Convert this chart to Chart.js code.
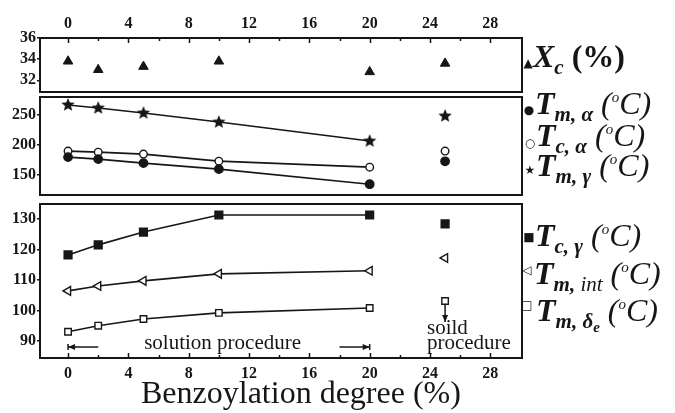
<!DOCTYPE html>
<html>
<head>
<meta charset="utf-8">
<script src="https://cdn.jsdelivr.net/npm/chart.js@4.4.1/dist/chart.umd.min.js"></script>
<style>
  body { margin: 0; background: #fff; }
  #wrap { position: relative; width: 675px; height: 413px; overflow: hidden; }
  #wrap canvas { position: absolute; left: 0; top: 0; }
  .leg { position: absolute; font-family: "Liberation Serif", serif; font-style: italic; font-weight: bold;
         font-size: 32px; line-height: 32px; color: #161616; white-space: nowrap; }
  .leg sub { font-size: 21px; line-height: 0; vertical-align: -7px; }
  .leg sub sub { font-size: 15px; vertical-align: -4px; }
  .leg sup { font-size: 15px; line-height: 0; vertical-align: 12px; font-weight: normal; }
  .leg .u { font-style: normal; }
  .leg .p { font-weight: normal; }
  .mk { position: absolute; font-family: "DejaVu Sans", sans-serif; font-size: 12px; line-height: 1;
        color: #161616; transform: translate(-50%, -50%); }
  #xtitle { position: absolute; left: 141px; top: 376px; font-family: "Liberation Serif", serif;
            font-size: 32px; line-height: 32px; color: #161616; white-space: nowrap; }
</style>
</head>
<body>
<div id="wrap">
  <canvas id="pXc" width="675" height="413"></canvas>
  <canvas id="pMelt" width="675" height="413"></canvas>
  <canvas id="pLow" width="675" height="413"></canvas>

  <div class="mk" style="left:528px;top:63px">▲</div>
  <div class="leg" style="left:533px;top:40px">X<sub>c</sub> <span class="u">(%)</span></div>

  <div class="mk" style="left:529px;top:110px">●</div>
  <div class="leg" style="left:535px;top:87px">T<sub>m, α</sub> <span class="p">(<sup>o</sup>C)</span></div>
  <div class="mk" style="left:530px;top:143px">○</div>
  <div class="leg" style="left:536px;top:119px">T<sub>c, α</sub> <span class="p">(<sup>o</sup>C)</span></div>
  <div class="mk" style="left:530px;top:170px">★</div>
  <div class="leg" style="left:536px;top:149px">T<sub>m, γ</sub> <span class="p">(<sup>o</sup>C)</span></div>

  <div class="mk" style="left:529px;top:237px">■</div>
  <div class="leg" style="left:535px;top:219px">T<sub>c, γ</sub> <span class="p">(<sup>o</sup>C)</span></div>
  <div class="mk" style="left:527px;top:270px">◁</div>
  <div class="leg" style="left:534px;top:257px">T<sub>m, <span class="p">int</span></sub> <span class="p">(<sup>o</sup>C)</span></div>
  <div class="mk" style="left:527px;top:305px">□</div>
  <div class="leg" style="left:536px;top:294px">T<sub>m, δ<sub>e</sub></sub> <span class="p">(<sup>o</sup>C)</span></div>

  <div id="xtitle">Benzoylation degree (%)</div>
</div>

<script>
// benzoylation degree (%) of each sample
const degree = [0, 2, 5, 10, 20, 25];

// crystallinity
const xcPct = [33.8, 33.0, 33.3, 33.8, 32.8, 33.6];

// melting / crystallization temperatures, upper block (°C)
const tmAlpha = [180, 176.7, 170, 160, 135, 173];
const tcAlpha = [190, 188.3, 185, 173.3, 163.3, 190];
const tmGamma = [266.7, 261.7, 253.3, 238.3, 206.7, 248.3];

// lower block (°C)
const tcGamma = [118.2, 121.5, 125.7, 131.3, 131.3, 128.4];
const tmInt = [106.4, 108, 109.7, 112, 113, 117.2];
const tmDelta = [93, 95, 97.2, 99.2, 100.8, 103.1];

// tick values
const degreeTicks = [0, 2, 4, 6, 8, 10, 12, 14, 16, 18, 20, 22, 24, 26, 28];
const xcTicks = [32, 34, 36];
const meltTicks = [150, 200, 250];
const lowTicks = [90, 100, 110, 120, 130];

const INK = '#161616';
const SERIF = '"Liberation Serif", "Times New Roman", serif';

function pts(ys) {
    return degree.map((x, i) => ({ x: x, y: ys[i] }));
}

// filled five point star used as a point style
function starImage(r) {
    const c = document.createElement('canvas');
    const s = Math.ceil(r * 2 + 2);
    c.width = s;
    c.height = s;
    const g = c.getContext('2d');
    g.fillStyle = INK;
    g.beginPath();
    for (let k = 0; k < 10; k++) {
        const rad = k % 2 ? r * 0.45 : r;
        const ang = -Math.PI / 2 + k * Math.PI / 5;
        g.lineTo(s / 2 + rad * Math.cos(ang), s / 2 + rad * Math.sin(ang));
    }
    g.closePath();
    g.fill();
    return c;
}

// the solid-procedure sample (last point) is not joined to the others
function series(label, ys, extra) {
    return Object.assign({
        label: label,
        data: pts(ys),
        showLine: true,
        borderColor: INK,
        borderWidth: 1.6,
        pointBorderColor: INK,
        pointBackgroundColor: INK,
        pointBorderWidth: 1.4,
        pointRadius: 4,
        segment: {
            borderColor: c => c.p1DataIndex === degree.length - 1 ? 'rgba(0,0,0,0)' : INK
        }
    }, extra);
}

// box around each panel + inward ticks on the degree axis
const frame = {
    id: 'frame',
    afterDraw(chart, args, opts) {
        const { ctx, chartArea: a } = chart;
        const xs = chart.scales.x;
        ctx.save();
        ctx.strokeStyle = INK;
        ctx.lineWidth = 2;
        ctx.strokeRect(a.left, a.top, a.right - a.left, a.bottom - a.top);
        if (opts.ticks) {
            ctx.lineWidth = 1.5;
            degreeTicks.forEach(v => {
                const px = Math.round(xs.getPixelForValue(v)) + 0.5;
                const len = v % 4 === 0 ? 5 : 3;
                ctx.beginPath();
                if (opts.ticks === 'top') {
                    ctx.moveTo(px, a.top);
                    ctx.lineTo(px, a.top + len);
                } else {
                    ctx.moveTo(px, a.bottom);
                    ctx.lineTo(px, a.bottom - len);
                }
                ctx.stroke();
            });
        }
        ctx.restore();
    }
};

function arrow(ctx, x1, y1, x2, y2, bar) {
    const ang = Math.atan2(y2 - y1, x2 - x1);
    ctx.beginPath();
    ctx.moveTo(x1, y1);
    ctx.lineTo(x2, y2);
    ctx.stroke();
    ctx.beginPath();
    ctx.moveTo(x2, y2);
    ctx.lineTo(x2 - 7 * Math.cos(ang) + 3 * Math.sin(ang), y2 - 7 * Math.sin(ang) - 3 * Math.cos(ang));
    ctx.lineTo(x2 - 7 * Math.cos(ang) - 3 * Math.sin(ang), y2 - 7 * Math.sin(ang) + 3 * Math.cos(ang));
    ctx.closePath();
    ctx.fill();
    if (bar) {
        ctx.beginPath();
        ctx.moveTo(x2 - 3 * Math.sin(ang), y2 - 3 * Math.cos(ang));
        ctx.lineTo(x2 + 3 * Math.sin(ang), y2 + 3 * Math.cos(ang));
        ctx.stroke();
    }
}

// procedure notes in the lower panel
const notes = {
    id: 'notes',
    afterDatasetsDraw(chart) {
        const { ctx } = chart;
        const xs = chart.scales.x, ys = chart.scales.y;
        ctx.save();
        ctx.fillStyle = INK;
        ctx.strokeStyle = INK;
        ctx.lineWidth = 1.5;
        ctx.font = '21px ' + SERIF;
        ctx.textBaseline = 'alphabetic';
        ctx.textAlign = 'center';
        ctx.fillText('solution procedure', xs.getPixelForValue(10.25), ys.getPixelForValue(87.4));
        ctx.textAlign = 'left';
        ctx.fillText('soild', xs.getPixelForValue(23.8), ys.getPixelForValue(92.2));
        ctx.fillText('procedure', xs.getPixelForValue(23.8), ys.getPixelForValue(87.4));

        const ay = ys.getPixelForValue(88.0);
        arrow(ctx, xs.getPixelForValue(2), ay, xs.getPixelForValue(0), ay, true);
        arrow(ctx, xs.getPixelForValue(18), ay, xs.getPixelForValue(20), ay, true);
        const dx = xs.getPixelForValue(25);
        arrow(ctx, dx, ys.getPixelForValue(101.8), dx, ys.getPixelForValue(96.2), false);
        ctx.restore();
    }
};

function makeOptions(cfg) {
    return {
        responsive: false,
        animation: false,
        layout: { padding: { left: 0, right: 153, top: cfg.padTop, bottom: cfg.padBottom } },
        plugins: {
            legend: { display: false },
            tooltip: { enabled: false },
            frame: { ticks: cfg.xPos || null }
        },
        scales: {
            x: {
                type: 'linear',
                min: -1.86,
                max: 30.1,
                display: !!cfg.xPos,
                position: cfg.xPos || 'bottom',
                grid: { display: false, drawTicks: false },
                border: { display: false },
                afterBuildTicks: s => { s.ticks = degreeTicks.map(v => ({ value: v })); },
                afterFit: s => { s.height = cfg.xHeight || 0; },
                ticks: {
                    padding: cfg.xPos === 'top' ? 5 : 6,
                    color: INK,
                    font: { family: SERIF, size: 16, weight: 'bold' },
                    maxRotation: 0,
                    autoSkip: false,
                    callback: v => v % 4 === 0 ? String(v) : ''
                }
            },
            y: {
                min: cfg.yMin,
                max: cfg.yMax,
                grid: { drawOnChartArea: false, drawTicks: true, tickLength: 3, color: INK, lineWidth: 1.5 },
                border: { display: false },
                afterBuildTicks: s => { s.ticks = cfg.yTicks.map(v => ({ value: v })); },
                afterFit: s => { s.width = 40; },
                ticks: {
                    padding: 1,
                    color: INK,
                    font: { family: SERIF, size: 16, weight: 'bold' }
                }
            }
        }
    };
}

new Chart(document.getElementById('pXc'), {
    type: 'scatter',
    data: {
        datasets: [{
            label: 'Xc (%)',
            data: pts(xcPct),
            showLine: false,
            pointStyle: 'triangle',
            pointRadius: 5.5,
            pointBackgroundColor: INK,
            pointBorderColor: INK
        }]
    },
    options: makeOptions({ padTop: 0, padBottom: 413 - 92, xPos: 'top', xHeight: 38,
        yMin: 30.9, yMax: 36, yTicks: xcTicks }),
    plugins: [frame]
});

new Chart(document.getElementById('pMelt'), {
    type: 'scatter',
    data: {
        datasets: [
            series('Tm,α (°C)', tmAlpha, { pointStyle: 'circle', pointRadius: 4.2 }),
            series('Tc,α (°C)', tcAlpha, { pointStyle: 'circle', pointRadius: 3.8, pointBackgroundColor: '#fff' }),
            series('Tm,γ (°C)', tmGamma, { pointStyle: starImage(7) })
        ]
    },
    options: makeOptions({ padTop: 97, padBottom: 413 - 195, yMin: 117, yMax: 280, yTicks: meltTicks }),
    plugins: [frame]
});

new Chart(document.getElementById('pLow'), {
    type: 'scatter',
    data: {
        datasets: [
            series('Tc,γ (°C)', tcGamma, { pointStyle: 'rect', pointRadius: 5.5 }),
            series('Tm,int (°C)', tmInt, { pointStyle: 'triangle', pointRotation: 270, pointRadius: 5,
                pointBackgroundColor: '#fff' }),
            series('Tm,δe (°C)', tmDelta, { pointStyle: 'rect', pointRadius: 4.6, pointBackgroundColor: '#fff' })
        ]
    },
    options: makeOptions({ padTop: 204, padBottom: 0, xPos: 'bottom', xHeight: 413 - 358,
        yMin: 84.4, yMax: 134.9, yTicks: lowTicks }),
    plugins: [frame, notes]
});
</script>
</body>
</html>
